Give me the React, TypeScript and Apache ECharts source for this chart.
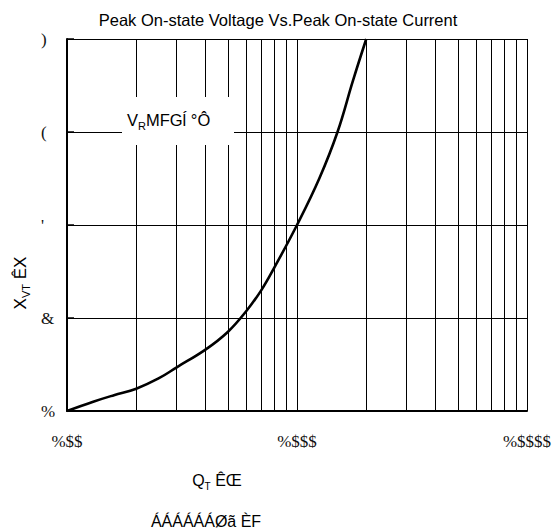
import React, { useEffect, useRef } from "react";
import * as echarts from "echarts";

// Axis ticks and their labels (as printed on the sheet)
const xTickValues = [100, 1000, 10000];
const xTickLabels = ["%$$", "%$$$", "%$$$$"];
const yTickValues = [1, 2, 3, 4, 5];
const yTickLabels = ["%", "&", "'", "(", ")"];

// Intermediate decade gridlines on the log axis
const minorXGrid = [200, 300, 400, 500, 600, 700, 800, 900, 2000, 3000, 4000, 5000, 6000, 7000, 8000, 9000];

// Peak on-state current (A) and peak on-state voltage (V)
const currentA = [100, 130, 160, 200, 250, 300, 400, 500, 600, 700, 800, 1000, 1250, 1500, 1750, 2000];
const voltageV = [1.0, 1.1, 1.17, 1.24, 1.35, 1.47, 1.66, 1.85, 2.07, 2.3, 2.55, 3.0, 3.5, 4.0, 4.55, 5.0];

const TITLE = "Peak On-state Voltage Vs.Peak On-state Current";
const SANS = "'Liberation Sans', Arial, sans-serif";
const SERIF = "'Liberation Serif', 'Times New Roman', serif";

export default function App() {
  const ref = useRef<HTMLDivElement>(null);

  useEffect(() => {
    if (!ref.current) return;
    const chart = echarts.init(ref.current, undefined, { renderer: "svg" });

    const labelFor = (values: number[], labels: string[], v: number) => {
      const i = values.findIndex((t) => Math.abs(t - v) < 1e-6 * Math.max(1, t));
      return i >= 0 ? labels[i] : "";
    };

    chart.setOption({
      animation: false,
      backgroundColor: "#fff",
      title: {
        text: TITLE,
        left: "center",
        top: 6,
        textStyle: { fontFamily: SANS, fontSize: 16.5, fontWeight: "normal", color: "#000" },
      },
      grid: { left: 67, right: 29, top: 39, bottom: 119, containLabel: false },
      xAxis: {
        type: "log",
        logBase: 10,
        min: 100,
        max: 10000,
        axisLine: { show: true, lineStyle: { color: "#000", width: 2 } },
        axisTick: { show: false },
        splitLine: { show: true, lineStyle: { color: "#000", width: 1 } },
        axisLabel: {
          margin: 22,
          fontFamily: SERIF,
          fontSize: 17,
          color: "#111",
          showMaxLabel: true,
          showMinLabel: true,
          formatter: (v: number) => labelFor(xTickValues, xTickLabels, v),
        },
      },
      yAxis: {
        type: "value",
        min: 1,
        max: 5,
        interval: 1,
        axisLine: { show: true, lineStyle: { color: "#000", width: 2 } },
        axisTick: { show: true, inside: true, length: 7, lineStyle: { color: "#000", width: 1.5 } },
        splitLine: { show: true, lineStyle: { color: "#000", width: 1 } },
        axisLabel: {
          margin: 26,
          align: "left",
          fontFamily: SERIF,
          fontSize: 17,
          color: "#111",
          formatter: (v: number) => labelFor(yTickValues, yTickLabels, v),
        },
      },
      series: [
        {
          type: "line",
          data: [],
          z: 1,
          silent: true,
          markLine: {
            silent: true,
            symbol: ["none", "none"],
            label: { show: false },
            lineStyle: { color: "#000", width: 1, type: "solid" },
            emphasis: { disabled: true },
            data: minorXGrid.map((v) => ({ xAxis: v })),
          },
        },
        {
          type: "line",
          z: 5,
          data: currentA.map((c, i) => [c, voltageV[i]]),
          smooth: 0.4,
          symbol: "none",
          lineStyle: { color: "#000", width: 2.6 },
        },
      ],
      graphic: [
        {
          type: "rect",
          z: 50,
          shape: { x: 122, y: 97, width: 112, height: 48 },
          style: { fill: "#fff" },
        },
        {
          type: "text",
          z: 51,
          x: 127,
          y: 120,
          style: {
            text: "{m|V}{s|R}{m|MFGĺ °Ô}",
            align: "left",
            verticalAlign: "middle",
            fill: "#000",
            rich: {
              m: { fontFamily: SANS, fontSize: 16.5, lineHeight: 22, fill: "#000" },
              s: { fontFamily: SANS, fontSize: 11, lineHeight: 11, verticalAlign: "bottom", fill: "#000" },
            },
          },
        },
        {
          type: "text",
          z: 51,
          x: 20,
          y: 283,
          rotation: Math.PI / 2,
          style: {
            text: "{m|X}{s|VT}{m| ÊX}",
            align: "center",
            verticalAlign: "middle",
            fill: "#000",
            rich: {
              m: { fontFamily: SANS, fontSize: 17, lineHeight: 22, fill: "#000" },
              s: { fontFamily: SANS, fontSize: 11, lineHeight: 11, verticalAlign: "bottom", fill: "#000" },
            },
          },
        },
        {
          type: "text",
          z: 51,
          x: 217,
          y: 480,
          style: {
            text: "{m|Q}{s|T}{m| ÊŒ}",
            align: "center",
            verticalAlign: "middle",
            fill: "#000",
            rich: {
              m: { fontFamily: SANS, fontSize: 16, lineHeight: 22, fill: "#000" },
              s: { fontFamily: SANS, fontSize: 10, lineHeight: 10, verticalAlign: "bottom", fill: "#000" },
            },
          },
        },
        {
          type: "text",
          z: 51,
          x: 206,
          y: 521,
          style: {
            text: "ÁÁÁÁÁÁØã ÈF",
            align: "center",
            verticalAlign: "middle",
            fontFamily: SANS,
            fontSize: 16,
            fill: "#000",
          },
        },
      ],
    });

    return () => chart.dispose();
  }, []);

  return (
    <div
      ref={ref}
      style={{ position: "fixed", left: 0, top: 0, width: 556, height: 530, background: "#fff" }}
    />
  );
}
